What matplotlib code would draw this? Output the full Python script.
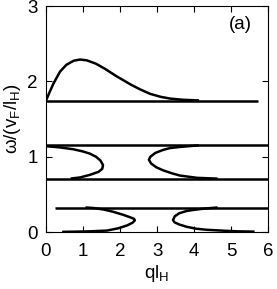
import matplotlib
matplotlib.use('Agg')
import matplotlib.pyplot as plt

plt.rcParams['font.family'] = ['Liberation Sans', 'DejaVu Sans']
plt.rcParams['mathtext.default'] = 'regular'

# flat branches: (y level, x start, x end)
flat_y = [1.745, 1.155, 0.705, 0.325]
flat_x0 = [0.0, 0.0, 0.0, 0.24]
flat_x1 = [5.72, 6.0, 6.0, 6.0]

# hump branch
hump_x = [0.0, 0.1, 0.2, 0.38, 0.55, 0.75, 0.92, 1.1, 1.35, 1.6, 1.9, 2.3, 2.54, 2.81, 3.1, 3.35, 3.7, 4.1]
hump_y = [1.745, 1.86, 1.97, 2.13, 2.22, 2.275, 2.29, 2.28, 2.235, 2.165, 2.07, 1.955, 1.895, 1.835, 1.795, 1.772, 1.756, 1.748]

# middle band, left loop
ml_x = [0.0, 0.35, 0.73, 1.0, 1.19, 1.35, 1.47, 1.54, 1.52, 1.42, 1.19, 0.92, 0.7]
ml_y = [1.14, 1.125, 1.10, 1.07, 1.04, 1.00, 0.95, 0.89, 0.84, 0.80, 0.76, 0.725, 0.712]

# middle band, right loop
mr_x = [4.1, 3.62, 3.35, 3.16, 2.95, 2.82, 2.78, 2.84, 2.98, 3.16, 3.4, 3.62, 4.08, 4.6]
mr_y = [1.15, 1.13, 1.115, 1.09, 1.05, 1.00, 0.96, 0.91, 0.86, 0.82, 0.78, 0.75, 0.72, 0.71]

# lower band, left loop
ll_x = [1.1, 1.27, 1.55, 1.81, 2.08, 2.28, 2.38, 2.4, 2.34, 2.2, 2.08, 1.95, 1.65, 1.2, 0.73, 0.47]
ll_y = [0.325, 0.32, 0.30, 0.27, 0.23, 0.195, 0.175, 0.155, 0.125, 0.09, 0.07, 0.05, 0.02, 0.01, 0.005, 0.003]

# lower band, right loop
lr_x = [4.6, 4.24, 4.0, 3.8, 3.6, 3.48, 3.43, 3.47, 3.6, 3.8, 4.05, 4.35, 4.8, 5.16, 5.6]
lr_y = [0.325, 0.31, 0.295, 0.28, 0.25, 0.21, 0.16, 0.13, 0.10, 0.07, 0.045, 0.03, 0.018, 0.01, 0.006]

fig = plt.figure(figsize=(2.77, 2.89), dpi=100)
ax = fig.add_axes([0.166, 0.197, 0.802, 0.782])

lw = 1.8
for y, a, b in zip(flat_y, flat_x0, flat_x1):
    ax.plot([a, b], [y, y], color='black', lw=lw, solid_capstyle='butt')
for xs, ys in [(hump_x, hump_y), (ml_x, ml_y), (mr_x, mr_y), (ll_x, ll_y), (lr_x, lr_y)]:
    ax.plot(xs, ys, color='black', lw=lw)

ax.set_xlim(0, 6)
ax.set_ylim(0, 3)
ax.set_xticks(range(0, 7))
ax.set_yticks(range(0, 4))
ax.tick_params(direction='in', length=4, width=0.8, top=True, right=True,
               labelsize=13.5)
ax.tick_params(axis='x', pad=8)
ax.tick_params(axis='y', pad=6)
for s in ax.spines.values():
    s.set_linewidth(0.8)

ax.set_xlabel('ql$_H$', fontsize=13.5, labelpad=2)
ax.set_ylabel('ω/(v$_F$/l$_H$)', fontsize=13.5, labelpad=3)
ax.text(5.24, 2.75, '(a)', fontsize=13.5, ha='center', va='center')

fig.savefig('out.png', dpi=100)
